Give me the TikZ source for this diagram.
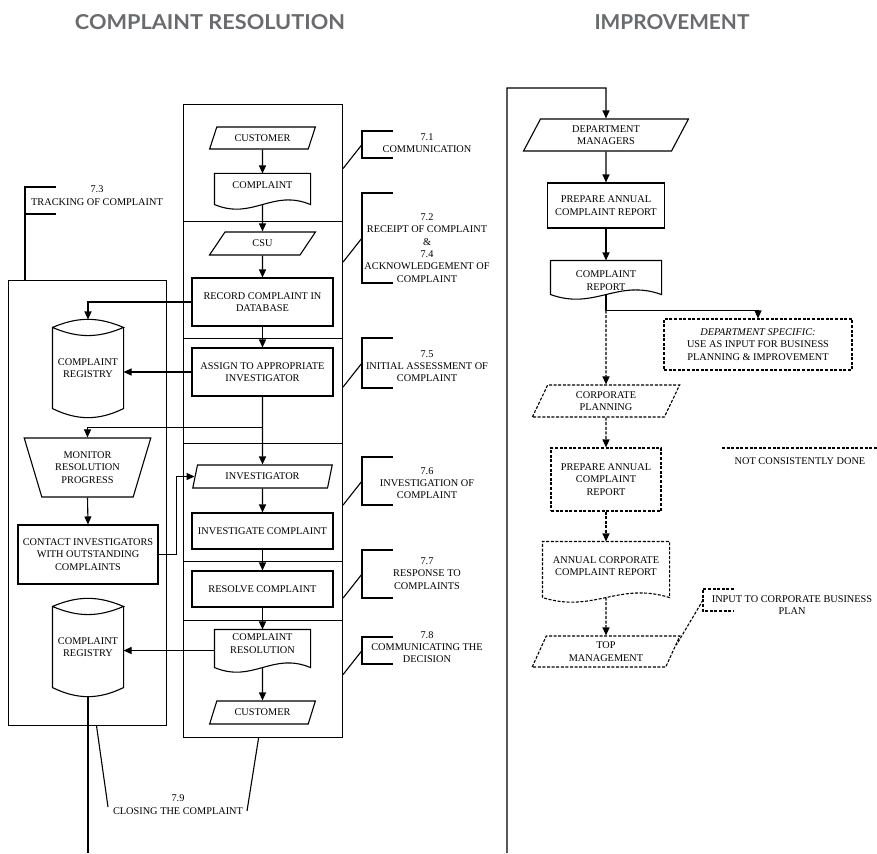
\documentclass[tikz,border=0pt]{standalone}
\usepackage{fontspec}
\setmainfont{Liberation Serif}
\newfontfamily\headfont{Lato}
\usepackage{graphicx}
\usepackage{tikz}
\usetikzlibrary{shapes.geometric, arrows.meta, calc}
\definecolor{hdgray}{HTML}{6A6B6E}

% document outline, wave #3 below the node
\newcommand{\docwave}[3][]{%
  \coordinate (#2-l) at ($(#2.south west)+(0,{-1*(#3)})$);
  \coordinate (#2-r) at ($(#2.south east)+(0,{-1*(#3)})$);
  \coordinate (#2-w) at ($(#2.south)+(0,{-1*(#3)})$);
  \draw[#1] (#2-l) -- (#2.north west) -- (#2.north east) -- (#2-r)
    .. controls ($(#2-r)!0.4!(#2-l)+(0,16)$) and ($(#2-l)!0.4!(#2-r)+(0,-16)$) .. (#2-l) -- cycle;}
% stored data drum
\newcommand{\dbdrum}[1]{%
  \draw (#1.north west) to[bend left=23] (#1.north east) to[bend left=23] (#1.north west)
    -- (#1.south west) to[bend right=26] (#1.south east) -- (#1.north east);
  \coordinate (#1-top) at ([yshift=8pt]#1.north);
  \coordinate (#1-bot) at ([yshift=-9pt]#1.south);}

\begin{document}
\begin{tikzpicture}[x=1pt, y=1pt, line width=1.1pt,
    font=\fontsize{10.3}{12.3}\selectfont,
    arr/.style={-{Triangle[length=8pt, width=7pt]}},
    box/.style={draw, rectangle, align=center, inner sep=1pt},
    lane/.style={draw, rectangle, inner sep=0pt, anchor=north west, minimum width=159pt},
    io/.style={draw, trapezium, trapezium left angle=#1, trapezium right angle={180-#1},
      trapezium stretches=true, align=center, inner sep=1pt},
    io/.default=65,
    doc/.style={rectangle, align=center, inner sep=1pt},
    drum/.style={rectangle, align=center, inner sep=0pt, minimum width=70pt, minimum height=80pt},
    note/.style={align=center, inner sep=0pt},
    notdone/.style={dash pattern=on 3pt off 1.6pt},
    pics/brk/.style={code={
      \draw (31,0) -- (0,0) -- (0,-#1) -- (31,-#1);
      \coordinate (-m) at (0,{-#1/2});
      \coordinate (-e) at (-20,{-#1/2-24});
      \coordinate (-b) at (0,-#1);
    }}]
  \useasboundingbox (0,0) rectangle (877,-853);

  % headings
  \node[text=hdgray] (hres) at (210,-22.5) {\resizebox{270pt}{15pt}{\headfont\bfseries COMPLAINT RESOLUTION}};
  \node[text=hdgray] (himp) at (672,-22.5) {\resizebox{155pt}{15pt}{\headfont\bfseries IMPROVEMENT}};

  % resolution lanes
  \node[lane, minimum height=117pt] (lane1) at (183,-104) {};
  \node[lane, minimum height=117pt] (lane2) at (183,-221) {};
  \node[lane, minimum height=105pt] (lane3) at (183,-338) {};
  \node[lane, minimum height=118pt] (lane4) at (183,-443) {};
  \node[lane, minimum height=59pt] (lane5) at (183,-561) {};
  \node[lane, minimum height=117pt] (lane6) at (183,-620) {};

  \node[io=63, minimum width=106pt, minimum height=22pt] (cust1) at (262.5,-138) {CUSTOMER};
  \node[doc, minimum width=95pt, minimum height=23pt] (comp1) at (262.5,-185.5) {COMPLAINT};
  \docwave{comp1}{7}
  \node[io=63, minimum width=106pt, minimum height=23pt] (csu) at (262.5,-243.5) {CSU};
  \node[box, minimum width=141pt, minimum height=48pt] (record) at (262.5,-302) {RECORD COMPLAINT IN\\DATABASE};
  \node[box, minimum width=141pt, minimum height=48pt] (assign) at (262.5,-372) {ASSIGN TO APPROPRIATE\\INVESTIGATOR};
  \node[io=73, minimum width=140pt, minimum height=23pt] (investigator) at (262.5,-476.5) {INVESTIGATOR};
  \node[box, minimum width=141pt, minimum height=36pt] (investigate) at (262.5,-531) {INVESTIGATE COMPLAINT};
  \node[box, minimum width=141pt, minimum height=36pt] (resolve) at (262.5,-589) {RESOLVE COMPLAINT};
  \node[doc, minimum width=95pt, minimum height=27pt] (compres) at (262.5,-643.5) {COMPLAINT\\RESOLUTION};
  \docwave{compres}{10}
  \node[io=63, minimum width=106pt, minimum height=23pt] (cust2) at (262.5,-712.5) {CUSTOMER};

  \draw[arr] (cust1.south) -- (comp1.north);
  \draw[arr] (comp1-w) -- (csu.north);
  \draw[arr] (csu.south) -- (record.north);
  \draw[arr] (record.south) -- (assign.north);
  \draw[arr] (assign.south) -- (investigator.north);
  \draw[arr] (investigator.south) -- (investigate.north);
  \draw[arr] (investigate.south) -- (resolve.north);
  \draw[arr] (resolve.south) -- (compres.north);
  \draw[arr] (compres-w) -- (cust2.north);

  % tracking column
  \node[lane, minimum width=158pt, minimum height=445pt] (track) at (8,-280) {};
  \node[drum] (reg1) at (88,-368) {COMPLAINT\\REGISTRY};
  \dbdrum{reg1}
  \node[draw, trapezium, trapezium angle=69, shape border rotate=180, trapezium stretches=true,
    minimum width=127pt, minimum height=59pt, align=center, inner sep=1pt] (monitor) at (87.5,-467.5) {MONITOR\\RESOLUTION\\PROGRESS};
  \node[box, minimum width=140pt, minimum height=59pt] (contact) at (88,-554.5) {CONTACT INVESTIGATORS\\WITH OUTSTANDING\\COMPLAINTS};
  \node[drum] (reg2) at (88,-647) {COMPLAINT\\REGISTRY};
  \dbdrum{reg2}

  \coordinate (split) at ($(assign.south)+(0,-31)$);
  \coordinate (regend) at (88,-853);
  \draw[arr] (record.west) -| (reg1-top);
  \draw[arr] (assign.west) -- (assign.west -| reg1.east);
  \draw[arr] (split) -| (monitor.north);
  \draw[arr] (monitor.south) -- (contact.north);
  \draw[arr] (contact.east) -- ++(18,0) |- (investigator.west);
  \draw[arr] ([yshift=-7pt]compres.west) -- ([yshift=-7pt]compres.west -| reg2.east);
  \draw (reg2-bot) -- (regend);

  % section notes
  \node[note] (t71) at (427,-143) {7.1\\COMMUNICATION};
  \node[note] (t72) at (427,-248) {7.2\\RECEIPT OF COMPLAINT\\\&\\7.4\\ACKNOWLEDGEMENT OF\\COMPLAINT};
  \node[note] (t75) at (427,-366) {7.5\\INITIAL ASSESSMENT OF\\COMPLAINT};
  \node[note] (t76) at (427,-483) {7.6\\INVESTIGATION OF\\COMPLAINT};
  \node[note] (t77) at (427,-573.5) {7.7\\RESPONSE TO\\COMPLAINTS};
  \node[note] (t78) at (427,-647) {7.8\\COMMUNICATING THE\\DECISION};
  \node[note] (t73) at (97,-195.5) {7.3\\TRACKING OF COMPLAINT};
  \node[note] (t79) at (178,-804.5) {7.9\\CLOSING THE COMPLAINT};

  \pic (n71) at (362,-131) {brk=27};
  \pic (n72) at (362,-193) {brk=90};
  \pic (n75) at (362,-338) {brk=50};
  \pic (n76) at (362,-457) {brk=48};
  \pic (n77) at (362,-550) {brk=48};
  \pic (n78) at (362,-637) {brk=27};
  \pic (n73) at (25,-187) {brk=27};

  \draw (n71-m) -- (lane1.east |- n71-e);
  \draw (n72-m) -- (lane2.east |- n72-e);
  \draw (n75-m) -- (lane3.east |- n75-e);
  \draw (n76-m) -- (lane4.east |- n76-e);
  \draw (n77-m) -- (lane5.east |- n77-e);
  \draw (n78-m) -- (lane6.east |- n78-e);
  \draw (n73-b) -- (n73-b |- track.north);

  \coordinate (c79a) at (108,-807);
  \coordinate (c79b) at (247,-811);
  \draw ([xshift=9pt]track.south) -- (c79a);
  \draw ([xshift=-4.5pt]lane6.south) -- (c79b);

  % improvement
  \node[io=67, minimum width=165pt, minimum height=32pt] (deptmgr) at (606,-135) {DEPARTMENT\\MANAGERS};
  \node[box, minimum width=117pt, minimum height=45pt] (prep1) at (606,-205.5) {PREPARE ANNUAL\\COMPLAINT REPORT};
  \node[doc, minimum width=110pt, minimum height=39pt] (crep) at (606,-280.5) {COMPLAINT\\REPORT};
  \docwave{crep}{-6}
  \node[box, notdone, minimum width=188pt, minimum height=51pt] (deptspec) at (758,-344.5) {\textit{DEPARTMENT SPECIFIC:}\\USE AS INPUT FOR BUSINESS\\PLANNING \& IMPROVEMENT};
  \node[io=69, notdone, minimum width=148pt, minimum height=32pt] (corpplan) at (606,-401) {CORPORATE\\PLANNING};
  \node[box, notdone, minimum width=110pt, minimum height=63pt] (prep2) at (606,-479.5) {PREPARE ANNUAL\\COMPLAINT\\REPORT};
  \node[doc, minimum width=126pt, minimum height=48pt] (acr) at (606,-566) {ANNUAL CORPORATE\\COMPLAINT REPORT};
  \docwave[notdone]{acr}{7}
  \node[io=67, notdone, minimum width=149pt, minimum height=31pt] (topmgmt) at (606,-651.5) {TOP\\MANAGEMENT};

  \coordinate (rbase) at (507,-853);
  \coordinate (rtop) at (606,-88);
  \coordinate (rsplit) at ($(crep-w)+(0,-16)$);
  \draw[arr] (rbase) |- (rtop) -- (deptmgr.north);
  \draw[arr] (deptmgr.south) -- (prep1.north);
  \draw[arr] (prep1.south) -- (crep.north);
  \draw (crep-w) -- (rsplit);
  \draw[arr] (rsplit) -| (deptspec.north);
  \draw[arr, notdone] (rsplit) -- (corpplan.north);
  \draw[arr, notdone] (corpplan.south) -- (prep2.north);
  \draw[arr, notdone] (prep2.south) -- (acr.north);
  \draw[arr, notdone] (acr-w) -- (topmgmt.north);

  % legend and plan note
  \coordinate (lgA) at (722,-448);
  \coordinate (lgB) at (877,-448);
  \draw[notdone] (lgA) -- (lgB);
  \node[note] (lgtxt) at (800,-461) {NOT CONSISTENTLY DONE};
  \node[note] (tin) at (792,-605) {INPUT TO CORPORATE BUSINESS\\PLAN};
  \pic[notdone] (nin) at (703,-589) {brk=22};
  \draw[notdone] (nin-m) -- ($(topmgmt.top right corner)!0.3!(topmgmt.bottom right corner)$);
\end{tikzpicture}
\end{document}
